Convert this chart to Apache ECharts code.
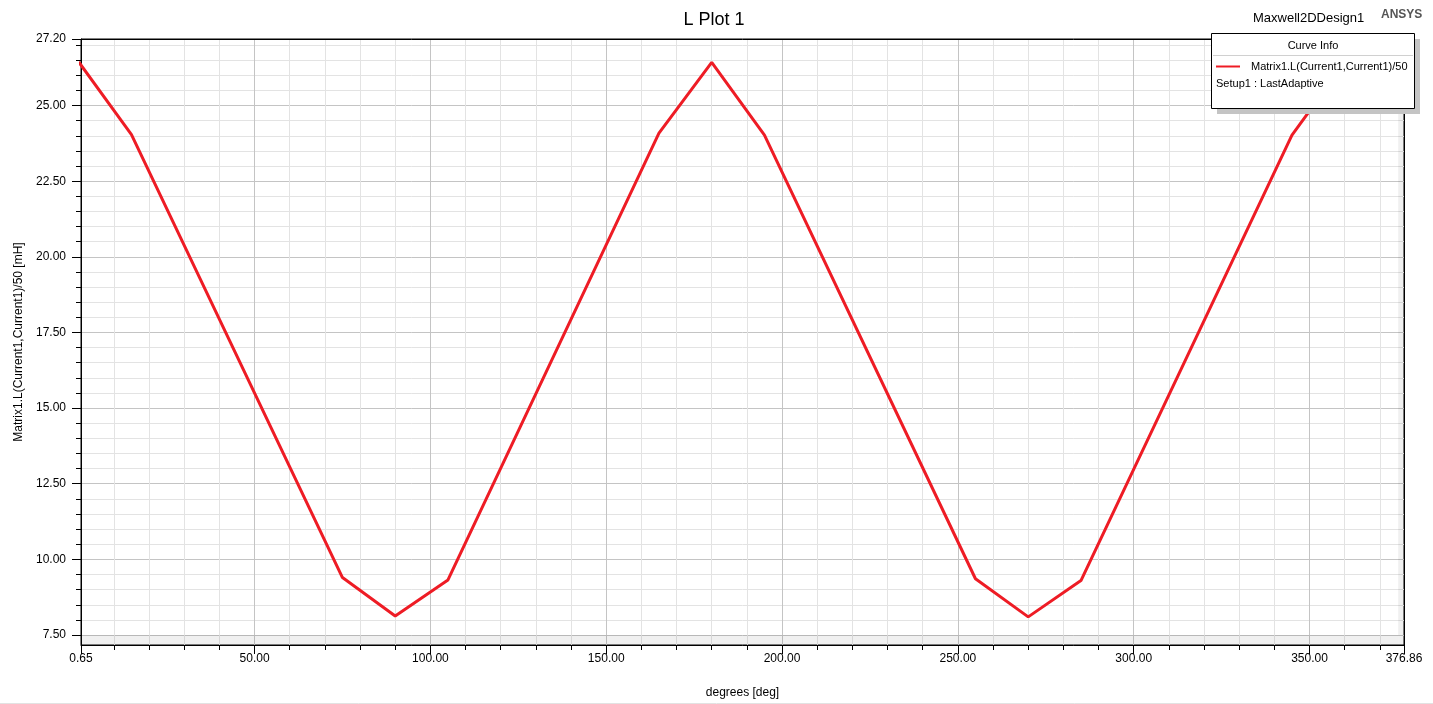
<!DOCTYPE html>
<html>
<head>
<meta charset="utf-8">
<title>L Plot 1</title>
<script src="https://cdn.jsdelivr.net/npm/echarts@6/dist/echarts.min.js"></script>
<style>
  html, body { margin: 0; padding: 0; background: #fff; }
  #chart { width: 1433px; height: 704px; }
</style>
</head>
<body>
<div id="chart"></div>
<script>
// curve vertices (deg, mH)
var degrees = [0, 15, 75, 90, 105, 165, 180, 195, 255, 270, 285, 345, 360];
var inductance = [26.44, 24.04, 9.40, 8.13, 9.32, 24.09, 26.43, 24.02, 9.36, 8.10, 9.30, 24.02, 26.42];

var xRange = [0.65, 376.86];
var yRange = [7.17, 27.2];
var xMajorTicks = [0.65, 50, 100, 150, 200, 250, 300, 350, 376.86];
var xMinorTicks = [10, 20, 30, 40, 60, 70, 80, 90, 110, 120, 130, 140, 160, 170, 180, 190,
                   210, 220, 230, 240, 260, 270, 280, 290, 310, 320, 330, 340, 360, 370];
var yMajorTicks = [7.5, 10, 12.5, 15, 17.5, 20, 22.5, 25, 27.2];
var yMinorTicks = [8, 8.5, 9, 9.5, 10.5, 11, 11.5, 12, 13, 13.5, 14, 14.5, 15.5, 16, 16.5, 17,
                   18, 18.5, 19, 19.5, 20.5, 21, 21.5, 22, 23, 23.5, 24, 24.5, 25.5, 26, 26.5, 27];
var shadeX = 375.2;
var shadeY = 7.5;

var font = 'Arial, "Liberation Sans", sans-serif';
var chart = echarts.init(document.getElementById('chart'));

// plain black frame line on the top / right side
function frameAxis(pos, range) {
  return {
    type: 'value', position: pos, min: range[0], max: range[1],
    axisLine: { show: true, onZero: false, lineStyle: { color: '#000', width: 1 } },
    axisTick: { show: false }, axisLabel: { show: false }, splitLine: { show: false }
  };
}

var option = {
  backgroundColor: '#fff',
  animation: false,
  textStyle: { fontFamily: font },
  title: [
    { text: 'L Plot 1', left: 709, top: 6, textAlign: 'center',
      textStyle: { fontSize: 18, fontWeight: 'normal', color: '#000', fontFamily: font } },
    { text: 'Maxwell2DDesign1', left: 1253, top: 12, padding: 0,
      textStyle: { fontSize: 13, fontWeight: 'normal', color: '#000', fontFamily: font } },
    { text: 'ANSYS', left: 1381, top: 9, padding: 0,
      textStyle: { fontSize: 12, fontWeight: 'bold', color: '#555', fontFamily: font } }
  ],
  grid: {
    left: 81, right: 29, top: 39, bottom: 57,
    show: true, borderColor: '#000', borderWidth: 1, backgroundColor: '#fff'
  },
  legend: {
    left: 1216, top: 61, z: 120, padding: 0,
    icon: 'rect', itemWidth: 24, itemHeight: 2,
    selectedMode: false,
    textStyle: { fontSize: 11, color: '#000', fontFamily: font, padding: [0, 0, 0, 6] },
    data: ['Matrix1.L(Current1,Current1)/50']
  },
  xAxis: [
    {
      type: 'value', position: 'bottom', min: xRange[0], max: xRange[1],
      name: 'degrees [deg]', nameLocation: 'middle', nameGap: 42,
      nameTextStyle: { fontSize: 12, color: '#000', fontFamily: font },
      axisLine: { onZero: false, lineStyle: { color: '#000', width: 1 } },
      axisTick: { customValues: xMajorTicks, length: 9, lineStyle: { color: '#000' } },
      axisLabel: { customValues: xMajorTicks, margin: 8, fontSize: 12, color: '#000',
        formatter: function (v) { return v.toFixed(2); } },
      splitLine: { show: true, lineStyle: { color: '#c4c4c4', width: 1 } }
    },
    {
      type: 'value', position: 'bottom', min: xRange[0], max: xRange[1],
      axisLine: { show: false, onZero: false },
      axisTick: { customValues: xMinorTicks, length: 5, lineStyle: { color: '#000' } },
      axisLabel: { show: false },
      splitLine: { show: true, lineStyle: { color: '#e3e3e3', width: 1 } }
    },
    frameAxis('top', xRange)
  ],
  yAxis: [
    {
      type: 'value', position: 'left', min: yRange[0], max: yRange[1],
      name: 'Matrix1.L(Current1,Current1)/50 [mH]', nameLocation: 'middle', nameGap: 50,
      nameTextStyle: { fontSize: 12, color: '#000', fontFamily: font },
      axisLine: { show: true, onZero: false, lineStyle: { color: '#000', width: 1 } },
      axisTick: { show: true, customValues: yMajorTicks, length: 9, lineStyle: { color: '#000' } },
      axisLabel: { customValues: yMajorTicks, margin: 15, fontSize: 12, color: '#000',
        formatter: function (v) { return v.toFixed(2); } },
      splitLine: { show: true, lineStyle: { color: '#c4c4c4', width: 1 } }
    },
    {
      type: 'value', position: 'left', min: yRange[0], max: yRange[1],
      axisLine: { show: false, onZero: false },
      axisTick: { show: true, customValues: yMinorTicks, length: 5, lineStyle: { color: '#000' } },
      axisLabel: { show: false },
      splitLine: { show: true, lineStyle: { color: '#e3e3e3', width: 1 } }
    },
    frameAxis('right', yRange)
  ],
  series: [{
    name: 'Matrix1.L(Current1,Current1)/50',
    type: 'line',
    xAxisIndex: 0,
    yAxisIndex: 0,
    data: degrees.map(function (d, i) { return [d, inductance[i]]; }),
    symbol: 'none',
    clip: true,
    color: '#ee1c25',
    lineStyle: { color: '#ee1c25', width: 3 },
    markArea: {
      silent: true,
      itemStyle: { color: 'rgba(0,0,0,0.06)' },
      data: [
        [{ xAxis: shadeX }, { xAxis: xRange[1] }],
        [{ xAxis: xRange[0], yAxis: yRange[0] }, { xAxis: shadeX, yAxis: shadeY }]
      ]
    }
  }],
  graphic: [
    // curve info box with drop shadow
    { type: 'rect', z: 100, shape: { x: 1217, y: 39, width: 203, height: 75 },
      style: { fill: '#c4c4c4' } },
    { type: 'rect', z: 101, shape: { x: 1211.5, y: 33.5, width: 203, height: 75 },
      style: { fill: '#fff', stroke: '#000', lineWidth: 1 } },
    { type: 'text', z: 102, x: 1313, y: 46,
      style: { text: 'Curve Info', fill: '#000', font: '11px ' + font, align: 'center', verticalAlign: 'middle' } },
    { type: 'line', z: 102, shape: { x1: 1213, y1: 55.5, x2: 1413, y2: 55.5 },
      style: { stroke: '#d0d0d0', lineWidth: 1 } },
    { type: 'text', z: 102, x: 1216, y: 84,
      style: { text: 'Setup1 : LastAdaptive', fill: '#000', font: '11px ' + font, verticalAlign: 'middle' } },
    { type: 'line', z: 1, shape: { x1: 0, y1: 703.5, x2: 1433, y2: 703.5 },
      style: { stroke: '#e2e2e2', lineWidth: 1 } }
  ]
};

chart.setOption(option);
</script>
</body>
</html>
